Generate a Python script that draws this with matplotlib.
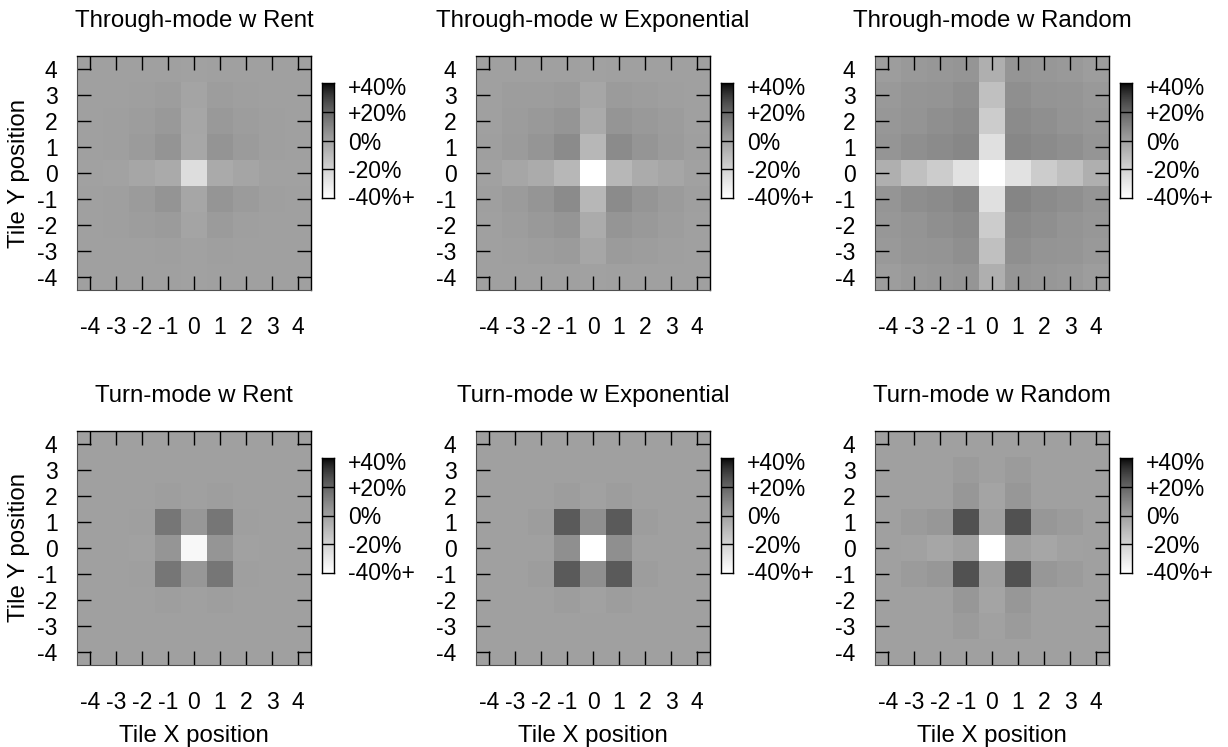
"""Six tile-position heatmaps (through / turn mode) in gnuplot-like gray."""
import matplotlib
matplotlib.use("Agg")
import matplotlib.pyplot as plt
import numpy as np
from matplotlib.colors import ListedColormap

plt.rcParams['font.family'] = ['Liberation Sans', 'DejaVu Sans']

W, H = 1228, 747

ticks = [-4, -3, -2, -1, 0, 1, 2, 3, 4]
cb_ticks = [40, 20, 0, -20, -40]
cb_labels = ['+40%', '+20%', '0%', '-20%', '-40%+']

titles = [
    ['Through-mode w Rent', 'Through-mode w Exponential', 'Through-mode w Random'],
    ['Turn-mode w Rent', 'Turn-mode w Exponential', 'Turn-mode w Random'],
]

# percent change per tile, rows from y=4 (top) down to y=-4, columns x=-4..4
through_rent = [
    [0, 0, 0, 0, -0.5, 0, 0, 0, 0],
    [0, 0, 0.5, 1.0, -1.3, 1.0, 0.5, 0, 0],
    [0, 0.5, 1.0, 2.5, -2.0, 2.5, 1.0, 0.5, 0],
    [0, 0.6, 1.7, 4.6, -2.8, 4.6, 2.1, 0.6, 0],
    [-0.2, -0.9, -2.0, -3.5, -24.5, -3.5, -1.6, -0.5, -0.2],
    [0, 0.6, 1.7, 4.6, -2.0, 4.2, 1.7, 0.6, 0],
    [0, 0.5, 1.0, 2.1, -1.3, 1.7, 0.6, 0.3, 0],
    [0, 0, 0.3, 0.6, -0.5, 0.6, 0.3, 0, 0],
    [0, 0, 0, 0, -0.2, 0, 0, 0, 0],
]
through_exp = [
    [0, 0, 0, 0, -0.5, 0, 0, 0, 0],
    [0, 1.0, 1.0, 1.7, -2.0, 1.7, 1.0, 0.6, 0],
    [0.3, 1.4, 2.5, 3.9, -3.5, 3.9, 2.5, 1.4, 0.3],
    [0.6, 1.7, 3.9, 7.5, -9.0, 7.5, 3.9, 1.7, 0.6],
    [-0.5, -2.0, -4.3, -9.0, -45.0, -9.0, -4.3, -2.0, -0.5],
    [0.6, 1.7, 3.9, 7.5, -9.0, 7.5, 3.9, 1.7, 0.6],
    [0.3, 1.0, 2.5, 3.9, -4.3, 3.9, 2.5, 1.0, 0.3],
    [0, 0.6, 1.0, 1.7, -2.0, 1.7, 1.0, 0.6, 0],
    [0, 0, 0, 0, -0.5, 0, 0, 0, 0],
]
through_random = [
    [1.0, 2.5, 3.2, 3.9, -5.9, 3.9, 3.2, 2.5, 1.0],
    [2.5, 3.9, 4.6, 6.0, -12.3, 6.0, 4.6, 3.9, 2.5],
    [3.2, 4.6, 6.0, 7.5, -17.2, 7.5, 6.0, 4.6, 3.2],
    [3.9, 6.0, 7.5, 8.8, -26.0, 8.8, 7.5, 6.0, 3.9],
    [-5.9, -12.3, -17.2, -27.0, -48.0, -27.0, -17.2, -12.3, -5.9],
    [3.9, 6.8, 7.5, 9.5, -26.0, 9.5, 7.5, 6.0, 3.9],
    [3.2, 4.6, 6.0, 7.5, -17.2, 7.5, 6.0, 4.6, 3.2],
    [2.5, 3.9, 4.6, 6.0, -12.3, 6.0, 4.6, 3.9, 2.5],
    [1.0, 2.5, 3.2, 3.9, -5.9, 3.9, 3.2, 2.5, 1.0],
]
turn_rent = [
    [0, 0, 0, 0, 0, 0, 0, 0, 0],
    [0, 0, 0, 0, 0, 0, 0, 0, 0],
    [0, 0, 0, 0.8, 0, 0.8, 0, 0, 0],
    [0, 0, 0.6, 14.5, 3.2, 14.5, 0.6, 0, 0],
    [0, 0, -0.2, 3.9, -37.0, 3.9, -0.2, 0, 0],
    [0, 0, 0.6, 14.5, 3.2, 14.5, 0.6, 0, 0],
    [0, 0, 0, 0.8, 0, 0.8, 0, 0, 0],
    [0, 0, 0, 0, 0, 0, 0, 0, 0],
    [0, 0, 0, 0, 0, 0, 0, 0, 0],
]
turn_exp = [
    [0, 0, 0, 0, 0, 0, 0, 0, 0],
    [0, 0, 0, 0, 0, 0, 0, 0, 0],
    [0, 0, 0, 1.0, -0.5, 1.0, 0, 0, 0],
    [0, 0, 1.0, 23.0, 6.0, 23.0, 1.0, 0, 0],
    [0, 0, 0, 6.0, -45.0, 6.0, 0, 0, 0],
    [0, 0, 1.0, 23.0, 6.0, 23.0, 1.0, 0, 0],
    [0, 0, 0, 1.0, -0.5, 1.0, 0, 0, 0],
    [0, 0, 0, 0, 0, 0, 0, 0, 0],
    [0, 0, 0, 0, 0, 0, 0, 0, 0],
]
turn_random = [
    [0, 0, 0, 0, 0, 0, 0, 0, 0],
    [0, 0, 0, 1.7, 0, 1.7, 0, 0, 0],
    [0, 0, 0, 3.2, -1.3, 3.2, 0, 0, 0],
    [0, 1.7, 3.2, 25.5, 0, 25.5, 3.2, 1.7, 0],
    [0, -0.5, -2.0, 0, -45.0, 0, -2.0, -0.5, 0],
    [0, 1.7, 3.2, 25.5, 0, 25.5, 3.2, 1.7, 0],
    [0, 0, 0, 3.2, -1.3, 3.2, 0, 0, 0],
    [0, 0, 0, 1.7, -0.5, 1.7, 0, 0, 0],
    [0, 0, 0, 0, 0, 0, 0, 0, 0],
]

grids = [[through_rent, through_exp, through_random],
         [turn_rent, turn_exp, turn_random]]

# negative gray palette with gnuplot's default gamma of 1.5
t = np.linspace(0, 1, 256)
gray = (1 - t) ** (1 / 1.5)
cmap = ListedColormap(np.column_stack([gray, gray, gray]))

fig = plt.figure(figsize=(W / 100, H / 100), dpi=100)


def px_axes(left, top, w, h):
    return fig.add_axes([left / W, 1 - (top + h) / H, w / W, h / H])


lefts = [77, 476, 875]
tops = [56, 431]
size = 234
tick_fs = 16.5
label_fs = 17.3

for r in range(2):
    for c in range(3):
        ax = px_axes(lefts[c], tops[r], size, size)
        ax.imshow(np.array(grids[r][c]), cmap=cmap, vmin=-40, vmax=40,
                  extent=[-4.5, 4.5, -4.5, 4.5], origin='upper',
                  interpolation='nearest', aspect='auto')
        ax.set_xlim(-4.5, 4.5)
        ax.set_ylim(-4.5, 4.5)
        ax.set_xticks(ticks)
        ax.set_yticks(ticks)
        ax.set_xticklabels([str(v) for v in ticks])
        ax.set_yticklabels([str(v) for v in ticks])
        ax.tick_params(direction='in', length=10, width=1.0, color='black',
                       top=True, right=True, labelsize=tick_fs)
        ax.tick_params(axis='x', pad=19)
        ax.tick_params(axis='y', pad=14)
        for side in ['top', 'right']:
            ax.spines[side].set_color('black')
            ax.spines[side].set_linewidth(1.0)
        for side in ['left', 'bottom']:
            ax.spines[side].set_color('#505050')
            ax.spines[side].set_linewidth(0.8)
        ax.set_title(titles[r][c], fontsize=label_fs, pad=21)

        # colour key
        cax = px_axes(lefts[c] + 245, tops[r] + 27, 12, 115)
        grad = np.linspace(40, -40, 200).reshape(-1, 1)
        cax.imshow(grad, cmap=cmap, vmin=-40, vmax=40, aspect='auto',
                   extent=[0, 1, -40, 40], origin='upper')
        cax.set_xlim(0, 1)
        cax.set_ylim(-40, 40)
        for v in cb_ticks[1:-1]:
            cax.axhline(v, color='black', lw=1.0)
        cax.set_xticks([])
        cax.yaxis.tick_right()
        cax.set_yticks([37.9, 20, 0, -20, -38.5])
        cax.set_yticklabels(cb_labels)
        cax.tick_params(axis='y', length=0, pad=10, labelsize=tick_fs)
        for s in cax.spines.values():
            s.set_linewidth(1.0)

    fig.text(19 / W, 1 - (tops[r] + size / 2) / H, 'Tile Y position',
             rotation=90, ha='center', va='center', fontsize=label_fs)

for c in range(3):
    fig.text((lefts[c] + size / 2) / W, 1 - 742 / H, 'Tile X position',
             ha='center', va='baseline', fontsize=label_fs)

fig.savefig('out.png', dpi=100)
